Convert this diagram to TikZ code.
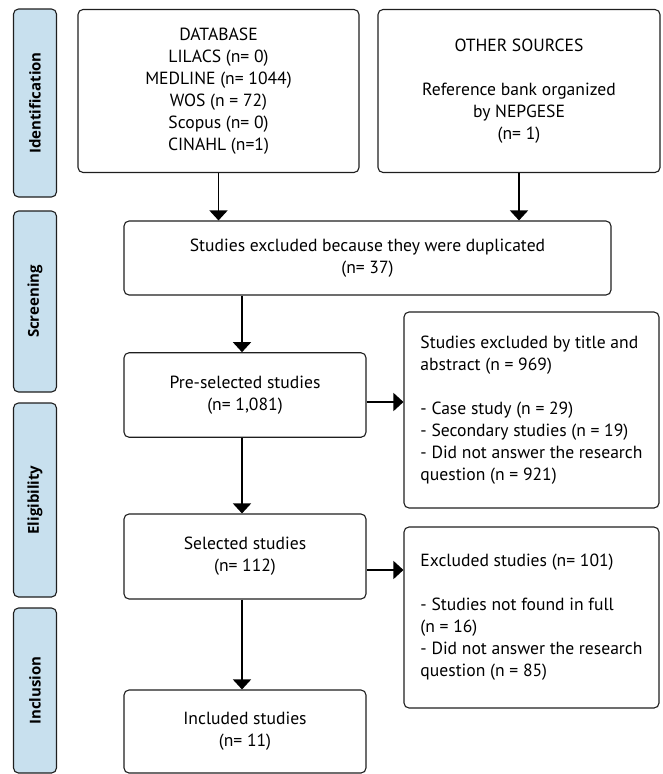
\documentclass[tikz,border=0pt]{standalone}
\usepackage{fontspec}
\setmainfont{PT Sans}
\newfontfamily\labfont{Open Sans}
\usetikzlibrary{arrows.meta,calc}
\definecolor{labblue}{RGB}{200,224,238}
\definecolor{edge}{RGB}{30,30,30}
\tikzset{
  stagebox/.style={draw=edge, line width=1.1pt, fill=labblue, rounded corners=5pt,
    minimum width=43pt, inner sep=0pt, font=\labfont\bfseries\fontsize{15}{17}\selectfont},
  flowbox/.style={draw=edge, line width=1.1pt, rounded corners=5pt, inner sep=0pt,
    align=center, font=\fontsize{17.6}{22}\selectfont},
  sidebox/.style={flowbox, align=left},
  flowarrow/.style={line width=1.5pt, -{Triangle[width=18pt,length=10pt]}}
}
\begin{document}
\begin{tikzpicture}[x=1pt,y=-1pt]
\useasboundingbox (0,0) rectangle (662,774);
% stage labels
\node[stagebox, minimum height=188pt] (lab1) at (35,103) {\rotatebox{90}{Identification}};
\node[stagebox, minimum height=181pt] (lab2) at (35,301.5) {\rotatebox{90}{Screening}};
\node[stagebox, minimum height=194pt] (lab3) at (35,500) {\rotatebox{90}{Eligibility}};
\node[stagebox, minimum height=165pt] (lab4) at (35,690.5) {\rotatebox{90}{Inclusion}};
% flow boxes
\node[flowbox, minimum width=281pt, minimum height=163pt] (db) at (218.5,91)
  {DATABASE\\LILACS (n= 0)\\MEDLINE (n= 1044)\\WOS (n = 72)\\Scopus (n= 0)\\CINAHL (n=1)};
\node[flowbox, minimum width=282pt, minimum height=163pt] (other) at (519,91)
  {OTHER SOURCES\\[22pt]Reference bank organized\\by NEPGESE\\(n= 1)};
\node[flowbox, minimum width=487pt, minimum height=74pt] (dup) at (367.5,258)
  {Studies excluded because they were duplicated\\(n= 37)};
\node[flowbox, minimum width=242pt, minimum height=84.5pt] (pre) at (245,395)
  {Pre-selected studies\\(n= 1,081)};
\node[sidebox, minimum width=255pt, minimum height=196pt] (tit) at (531.5,410)
  {Studies excluded by title and\\abstract (n = 969)\\[22pt]- Case study (n = 29)\\- Secondary studies (n = 19)\\- Did not answer the research\\question (n = 921)};
\node[flowbox, minimum width=242pt, minimum height=85pt] (sel) at (245,556.5)
  {Selected studies\\(n= 112)};
\node[sidebox, minimum width=255pt, minimum height=181pt] (exc) at (531.5,617.5)
  {Excluded studies (n= 101)\\[22pt]- Studies not found in full\\(n = 16)\\- Did not answer the research\\question (n = 85)};
\node[flowbox, minimum width=242pt, minimum height=83pt] (inc) at (245,731.5)
  {Included studies\\(n= 11)};
% helper coordinates
\coordinate (ax) at (242,0);
\coordinate (r1) at (0,402);
\coordinate (r2) at (0,570);
% connectors
\draw[flowarrow] (db.south) -- (db.south |- dup.north);
\draw[flowarrow] (other.south) -- (other.south |- dup.north);
\draw[flowarrow] (dup.south -| ax) -- (pre.north -| ax);
\draw[flowarrow] (pre.south -| ax) -- (sel.north -| ax);
\draw[flowarrow] (sel.south -| ax) -- (inc.north -| ax);
\draw[flowarrow] (pre.east |- r1) -- (tit.west |- r1);
\draw[flowarrow] (sel.east |- r2) -- (exc.west |- r2);
\end{tikzpicture}
\end{document}
